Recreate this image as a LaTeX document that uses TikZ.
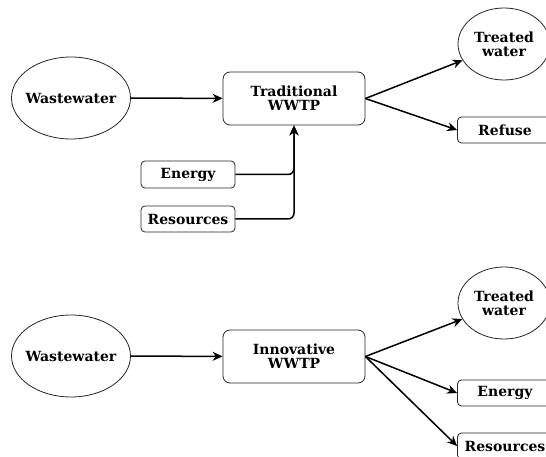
\documentclass[tikz,border=0pt]{standalone}
\usepackage{fontspec}
\setmainfont{DejaVu Serif}
\usetikzlibrary{arrows.meta, shapes.geometric}

\tikzset{
	source/.style={ draw=black!85
	              , line width=0.8pt
	              , ellipse
	              , inner ysep=0
	              , inner xsep=-5pt
	              , font=\fontsize{14}{14}\selectfont\bfseries
	              , align=center
	              },
	plant/.style={ draw=black!85
	             , line width=0.8pt
	             , rounded corners=7pt
	             , minimum width=142pt
	             , minimum height=53pt
	             , inner sep=0
	             , font=\fontsize{14}{14}\selectfont\bfseries
	             , align=center
	             },
	item/.style={ draw=black!85
	            , line width=0.8pt
	            , rounded corners=4pt
	            , minimum width=95pt
	            , minimum height=26pt
	            , inner sep=0
	            , font=\fontsize{14}{14}\selectfont\bfseries
	            },
	flow/.style={ line width=1.5pt
	            , -{Stealth[length=10pt, width=9pt]}
	            },
}

\begin{document}
\begin{tikzpicture}[x=1pt, y=-1pt]
	\useasboundingbox (0, 0) rectangle (546, 457);
	\clip (0, 0) rectangle (546, 457);
	
	% Traditional plant
	\node (wwA) [source, minimum width=119pt, minimum height=82pt] at (71, 98) {Wastewater};
	\node (trad) [plant] at (294, 98.5) {Traditional\\WWTP};
	\node (twA) [source, minimum width=92pt, minimum height=72pt] at (504, 44) {Treated\\water};
	\node (refuse) [item] at (505, 130) {Refuse};
	\node (energyA) [item, minimum width=94pt, minimum height=27pt] at (188, 174.5) {Energy};
	\node (resA) [item, minimum width=94pt] at (188, 219) {Resources};
	
	\draw [flow] (wwA) -- (trad);
	\draw [flow] (trad.east) -- (twA);
	\draw [flow] (trad.east) -- (refuse.west);
	\draw [flow, rounded corners=6pt] (energyA.east) -| (trad.south);
	\draw [flow, rounded corners=6pt] (resA.east) -| (trad.south);
	
	% Innovative plant
	\node (wwB) [source, minimum width=119pt, minimum height=82pt] at (71, 356) {Wastewater};
	\node (innov) [plant] at (294, 356.5) {Innovative\\WWTP};
	\node (twB) [source, minimum width=92pt, minimum height=72pt] at (504, 303) {Treated\\water};
	\node (energyB) [item] at (505, 393) {Energy};
	\node (resB) [item] at (505, 446) {Resources};
	
	\draw [flow] (wwB) -- (innov);
	\foreach \out in {twB, energyB.west, resB.west}{
		\draw [flow] (innov.east) -- (\out);
	}
\end{tikzpicture}
\end{document}
